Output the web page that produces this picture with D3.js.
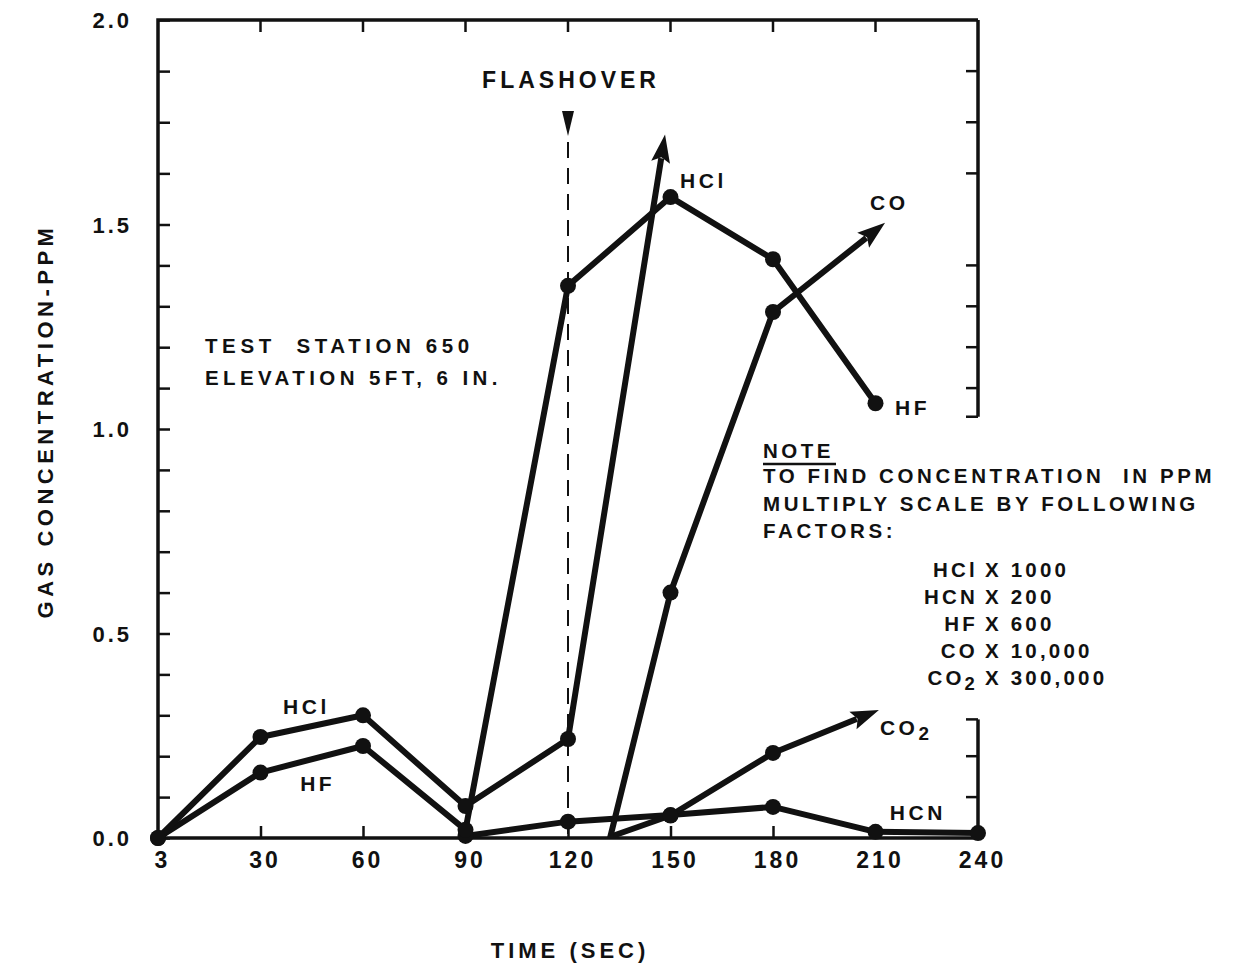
<!DOCTYPE html>
<html>
<head>
<meta charset="utf-8">
<script src="https://cdn.jsdelivr.net/npm/d3@7"></script>
<style>
  body { margin: 0; background: #fff; }
  text { font-family: "Liberation Sans", Arial, sans-serif; font-weight: bold; fill: #111; }
</style>
</head>
<body>
<svg id="vis"></svg>
<script>
// time axis (the first tick is printed as "3" on the original)
var timeTicks = [0, 30, 60, 90, 120, 150, 180, 210, 240]
var timeLabels = ["3", "30", "60", "90", "120", "150", "180", "210", "240"]
var concTicks = [0, 0.5, 1.0, 1.5, 2.0]
var concMinor = [0.1, 0.2, 0.3, 0.4, 0.6, 0.7, 0.8, 0.9, 1.1, 1.2, 1.3, 1.4, 1.625, 1.75, 1.875]

// series: measured points (dots), optional start point without dot, optional arrow end
var hclDots = [[0, 0], [30, 0.247], [60, 0.30], [90, 0.078], [120, 0.242]]
var hclArrow = [148.4, 1.72]

var hfDots = [[0, 0], [30, 0.16], [60, 0.225], [90, 0.02], [120, 1.35], [150, 1.567], [180, 1.415], [210, 1.063]]

var coStart = [132.3, 0]
var coDots = [[150, 0.60], [180, 1.286]]
var coArrow = [212.8, 1.504]

var co2Start = [133, 0.005]
var co2Dots = [[150, 0.055], [180, 0.208]]
var co2Arrow = [211, 0.313]

var hcnDots = [[90, 0.005], [120, 0.04], [150, 0.056], [180, 0.076], [210, 0.015], [240, 0.012]]

var flashoverTime = 120

var factorNames = ["HCl", "HCN", "HF", "CO", "CO2"]
var factorValues = ["1000", "200", "600", "10,000", "300,000"]

var dimensions = {
  width: 1236,
  height: 965,
  margin: { top: 20, right: 258, bottom: 127, left: 158 }
}

var svg = d3.select("#vis")
  .attr("width", dimensions.width)
  .attr("height", dimensions.height)

var xScale = d3.scaleLinear()
  .domain([0, 240])
  .range([dimensions.margin.left, dimensions.width - dimensions.margin.right])

var yScale = d3.scaleLinear()
  .domain([0, 2])
  .range([dimensions.height - dimensions.margin.bottom, dimensions.margin.top])

var x0 = xScale(0), x1 = xScale(240), y0 = yScale(0), y1 = yScale(2)
var ink = "#111"

// frame: left, bottom, top
svg.append("path")
  .attr("d", `M${x1},${y1} L${x0},${y1} L${x0},${y0} L${x1},${y0}`)
  .attr("fill", "none").attr("stroke", ink).attr("stroke-width", 3.5)

// right border is broken around the note
var rightSegments = [[0, 0.29], [1.03, 2.0]]
rightSegments.forEach(function (s) {
  svg.append("line")
    .attr("x1", x1).attr("x2", x1)
    .attr("y1", yScale(s[0])).attr("y2", yScale(s[1]))
    .attr("stroke", ink).attr("stroke-width", 3.5)
  // small serif at the open end
  var cap = s[0] === 0 ? s[1] : s[0]
  svg.append("line")
    .attr("x1", x1 - 12).attr("x2", x1)
    .attr("y1", yScale(cap)).attr("y2", yScale(cap))
    .attr("stroke", ink).attr("stroke-width", 2.5)
})

// left axis: ticks point inward
var yAxisGen = d3.axisLeft(yScale)
  .tickValues(concTicks.concat(concMinor))
  .tickSize(-12)
  .tickPadding(26)
  .tickFormat(d => concTicks.indexOf(d) >= 0 ? d3.format(".1f")(d) : "")
var yAxis = svg.append("g")
  .call(yAxisGen)
  .style("transform", `translateX(${x0}px)`)
yAxis.select(".domain").remove()
yAxis.selectAll("line").attr("stroke", ink).attr("stroke-width", 2.5)
yAxis.selectAll("text")
  .attr("font-size", 22).attr("letter-spacing", 3)
  .attr("font-family", "Liberation Sans, Arial, sans-serif")
  .attr("font-weight", "bold").attr("fill", ink).attr("dy", "0.36em")

// right ticks only where the border is drawn
var rightTicks = concMinor.filter(v => rightSegments.some(s => v > s[0] && v < s[1]))
svg.append("g").selectAll("line")
  .data(rightTicks).enter().append("line")
  .attr("x1", x1 - 12).attr("x2", x1)
  .attr("y1", d => yScale(d)).attr("y2", d => yScale(d))
  .attr("stroke", ink).attr("stroke-width", 2.5)

// bottom axis
var xAxisGen = d3.axisBottom(xScale)
  .tickValues(timeTicks)
  .tickSize(-12)
  .tickPadding(14)
  .tickFormat((d, i) => timeLabels[i])
var xAxis = svg.append("g")
  .call(xAxisGen)
  .style("transform", `translateY(${y0}px)`)
xAxis.select(".domain").remove()
xAxis.selectAll("line").attr("stroke", ink).attr("stroke-width", 2.5)
  .filter(d => d === 0 || d === 240).remove()
xAxis.selectAll("text")
  .attr("font-size", 23).attr("letter-spacing", 3)
  .attr("font-family", "Liberation Sans, Arial, sans-serif")
  .attr("font-weight", "bold").attr("fill", ink).attr("dx", 4)

// top ticks
svg.append("g").selectAll("line")
  .data(timeTicks.slice(1, -1)).enter().append("line")
  .attr("x1", d => xScale(d)).attr("x2", d => xScale(d))
  .attr("y1", y1).attr("y2", y1 + 12)
  .attr("stroke", ink).attr("stroke-width", 2.5)

// axis titles
svg.append("text")
  .attr("x", (x0 + x1) / 2 + 2).attr("y", 958)
  .attr("text-anchor", "middle")
  .attr("font-size", 22).attr("letter-spacing", 4)
  .text("TIME (SEC)")

svg.append("text")
  .attr("transform", `translate(53,${(y0 + y1) / 2 - 8}) rotate(-90)`)
  .attr("text-anchor", "middle")
  .attr("font-size", 22).attr("letter-spacing", 4.5)
  .text("GAS CONCENTRATION-PPM")

// flashover marker
var fx = xScale(flashoverTime)
svg.append("line")
  .attr("x1", fx).attr("x2", fx)
  .attr("y1", 142).attr("y2", y0)
  .attr("stroke", ink).attr("stroke-width", 2)
  .attr("stroke-dasharray", "16,10")
svg.append("path")
  .attr("d", `M${fx - 6},111 L${fx + 6},111 L${fx},136 Z`)
  .attr("fill", ink)
svg.append("text")
  .attr("x", fx + 3).attr("y", 88)
  .attr("text-anchor", "middle")
  .attr("font-size", 23).attr("letter-spacing", 4)
  .text("FLASHOVER")

// series lines
var lineGen = d3.line()
  .x(d => xScale(d[0]))
  .y(d => yScale(d[1]))

function drawSeries(start, dots, arrow) {
  var pts = (start ? [start] : []).concat(dots)
  if (arrow) {
    // stop the stroke short of the arrow tip, then add the head
    var last = pts[pts.length - 1]
    var ax = xScale(arrow[0]), ay = yScale(arrow[1])
    var lx = xScale(last[0]), ly = yScale(last[1])
    var len = Math.hypot(ax - lx, ay - ly)
    var ux = (ax - lx) / len, uy = (ay - ly) / len
    var headLen = 28, headW = 9.5
    var bx = ax - ux * headLen, by = ay - uy * headLen
    svg.append("path")
      .attr("d", lineGen(pts) + `L${bx + ux * 4},${by + uy * 4}`)
      .attr("fill", "none").attr("stroke", ink)
      .attr("stroke-width", 6).attr("stroke-linejoin", "round")
    svg.append("path")
      .attr("d", `M${ax},${ay} L${bx - uy * headW},${by + ux * headW} L${bx + ux * 5},${by + uy * 5} L${bx + uy * headW},${by - ux * headW} Z`)
      .attr("fill", ink)
  } else {
    svg.append("path")
      .attr("d", lineGen(pts))
      .attr("fill", "none").attr("stroke", ink)
      .attr("stroke-width", 6).attr("stroke-linejoin", "round")
  }
  svg.append("g").selectAll("circle")
    .data(dots).enter().append("circle")
    .attr("cx", d => xScale(d[0]))
    .attr("cy", d => yScale(d[1]))
    .attr("r", 8)
    .attr("fill", ink)
}

drawSeries(null, hcnDots, null)
drawSeries(co2Start, co2Dots, co2Arrow)
drawSeries(coStart, coDots, coArrow)
drawSeries(null, hfDots, null)
drawSeries(null, hclDots, hclArrow)

// series labels
var seriesLabels = [
  { t: 152.8, v: 1.59, text: "HCl" },
  { t: 208.4, v: 1.535, text: "CO" },
  { t: 215.7, v: 1.034, text: "HF" },
  { t: 36.6, v: 0.303, text: "HCl" },
  { t: 41.6, v: 0.115, text: "HF" },
  { t: 211.3, v: 0.252, text: "CO2" },
  { t: 214.2, v: 0.044, text: "HCN" }
]

function writeName(sel, name) {
  if (name === "CO2") {
    sel.append("tspan").text("CO")
    sel.append("tspan").attr("dy", 5).attr("font-size", "0.9em").text("2")
  } else {
    sel.text(name)
  }
}

seriesLabels.forEach(function (l) {
  var t = svg.append("text")
    .attr("x", xScale(l.t)).attr("y", yScale(l.v))
    .attr("font-size", 21).attr("letter-spacing", 3.5)
  writeName(t, l.text)
})

// test station note
svg.append("text").attr("x", 205).attr("y", 353)
  .attr("font-size", 20.5).attr("letter-spacing", 4.6)
  .attr("xml:space", "preserve")
  .text("TEST  STATION 650")
svg.append("text").attr("x", 205).attr("y", 385)
  .attr("font-size", 20.5).attr("letter-spacing", 4.4)
  .text("ELEVATION 5FT, 6 IN.")

// conversion note
svg.append("text").attr("x", 763).attr("y", 458)
  .attr("font-size", 20.5).attr("letter-spacing", 3.5)
  .text("NOTE")
svg.append("line")
  .attr("x1", 763).attr("x2", 836).attr("y1", 464).attr("y2", 464)
  .attr("stroke", ink).attr("stroke-width", 2.5)

var noteLines = ["TO FIND CONCENTRATION  IN PPM", "MULTIPLY SCALE BY FOLLOWING", "FACTORS:"]
noteLines.forEach(function (s, i) {
  svg.append("text").attr("x", 763).attr("y", 483 + i * 27.5)
    .attr("font-size", 20.5).attr("letter-spacing", 3.6)
    .attr("xml:space", "preserve")
    .text(s)
})

factorNames.forEach(function (n, i) {
  var yy = 577 + i * 27
  var t = svg.append("text").attr("x", 978).attr("y", yy)
    .attr("text-anchor", "end")
    .attr("font-size", 20.5).attr("letter-spacing", 3.2)
  writeName(t, n)
  svg.append("text").attr("x", 985).attr("y", yy)
    .attr("font-size", 20.5).attr("letter-spacing", 3.2)
    .attr("xml:space", "preserve")
    .text("X " + factorValues[i])
})
</script>
</body>
</html>
